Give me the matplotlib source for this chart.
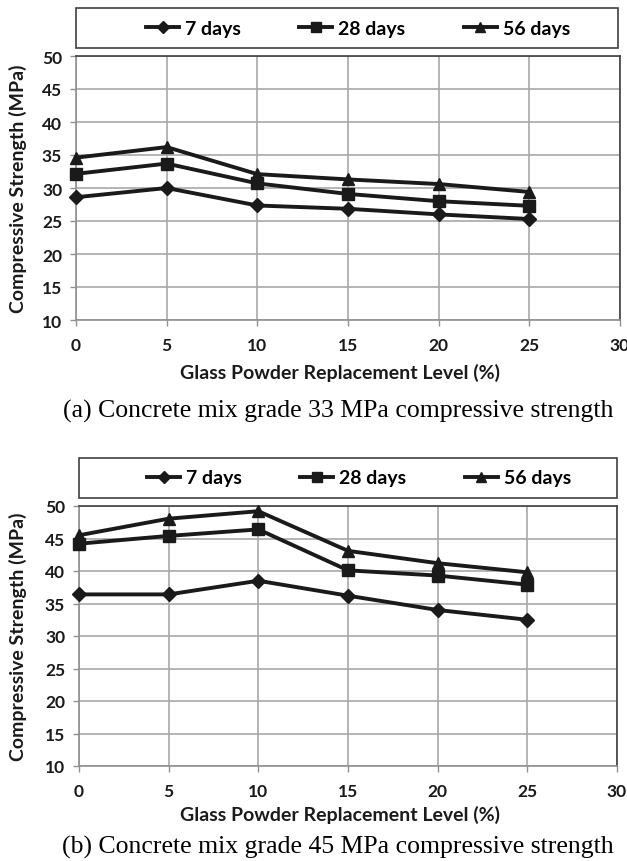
import matplotlib
matplotlib.use("Agg")
import matplotlib.pyplot as plt
from matplotlib.patches import Rectangle
from matplotlib.lines import Line2D

# replacement levels (%)
levels = [0, 5, 10, 15, 20, 25]

# (a) 33 MPa mix
a_7 = [28.6, 30.0, 27.35, 26.85, 26.0, 25.3]
a_28 = [32.15, 33.7, 30.7, 29.1, 28.0, 27.3]
a_56 = [34.6, 36.2, 32.1, 31.3, 30.6, 29.4]

# (b) 45 MPa mix
b_7 = [36.4, 36.4, 38.5, 36.2, 34.0, 32.5]
b_28 = [44.2, 45.4, 46.4, 40.1, 39.3, 37.9]
b_56 = [45.5, 48.05, 49.2, 43.1, 41.2, 39.8]

series_names = ["7 days", "28 days", "56 days"]
markers = ["D", "s", "^"]
marker_sizes = [7, 8.5, 8.5]

x_ticks = [0, 5, 10, 15, 20, 25, 30]
y_ticks = [10, 15, 20, 25, 30, 35, 40, 45, 50]

captions = ["(a) Concrete mix grade 33 MPa compressive strength",
            "(b) Concrete mix grade 45 MPa compressive strength"]

W, H = 627, 862
fig = plt.figure(figsize=(W / 100, H / 100), dpi=100)

sans = "Lato"
serif = "Liberation Serif"
ink = "#1a1a1a"


def fx(px):
    return px / W


def fy(py):
    return 1 - py / H


def draw_panel(ax_box, leg_box, data, caption, xlab_y, cap_y):
    left, top, right, bottom = ax_box
    ax = fig.add_axes([fx(left), fy(bottom), fx(right - left), fy(top) - fy(bottom)])
    for vals, m, ms in zip(data, markers, marker_sizes):
        ax.plot(levels, vals, color=ink, lw=2.8, marker=m, ms=ms,
                clip_on=False, zorder=3)
    ax.set_xlim(0, 30)
    ax.set_ylim(10, 50)
    ax.set_xticks(x_ticks)
    ax.set_yticks(y_ticks)
    ax.grid(True, color="#a8a8a8", lw=1.2)
    ax.set_axisbelow(True)
    for s in ["top", "right"]:
        ax.spines[s].set_color("#404040")
        ax.spines[s].set_linewidth(1.2)
    for s in ["left", "bottom"]:
        ax.spines[s].set_color("#909090")
        ax.spines[s].set_linewidth(1.2)
    ax.tick_params(axis="both", length=4, color="#909090", width=1)
    ax.tick_params(axis="y", pad=6)
    ax.tick_params(axis="x", pad=8)
    for lab in ax.get_xticklabels() + ax.get_yticklabels():
        lab.set_fontfamily(sans)
        lab.set_fontweight("bold")
        lab.set_fontsize(12.5)
        lab.set_color(ink)
    fig.text(fx(18), fy((top + bottom) / 2), "Compressive Strength (MPa)",
             family=sans, fontweight="bold", fontsize=14, color=ink,
             rotation=90, ha="center", va="center")
    fig.text(fx((left + right) / 2 - 8), fy(xlab_y), "Glass Powder Replacement Level (%)",
             family=sans, fontweight="bold", fontsize=14, color=ink,
             ha="center", va="center")
    fig.text(fx(338), fy(cap_y), caption, family=serif, fontsize=18.5,
             ha="center", va="center")

    # legend box
    l, t, r, b = leg_box
    fig.add_artist(Rectangle((fx(l), fy(b)), fx(r - l), fy(t) - fy(b),
                             transform=fig.transFigure, fill=False,
                             edgecolor="#404040", lw=1.2))
    handles = [Line2D([], [], color=ink, lw=2.8, marker=m, ms=ms - 1)
               for m, ms in zip(markers, marker_sizes)]
    fig.legend(handles, series_names, loc="center",
               bbox_to_anchor=(fx((l + r) / 2 + 11), fy((t + b) / 2)),
               ncol=3, frameon=False, handlelength=1.7, handletextpad=0.3,
               columnspacing=3.0,
               prop={"family": sans, "weight": "bold", "size": 14})
    return ax


draw_panel((76, 57, 620, 321), (76, 9, 618, 49), [a_7, a_28, a_56],
           captions[0], 373, 411)
draw_panel((79, 507, 617, 767), (79, 459, 617, 499), [b_7, b_28, b_56],
           captions[1], 815, 847)

fig.savefig("out.png", dpi=100)
